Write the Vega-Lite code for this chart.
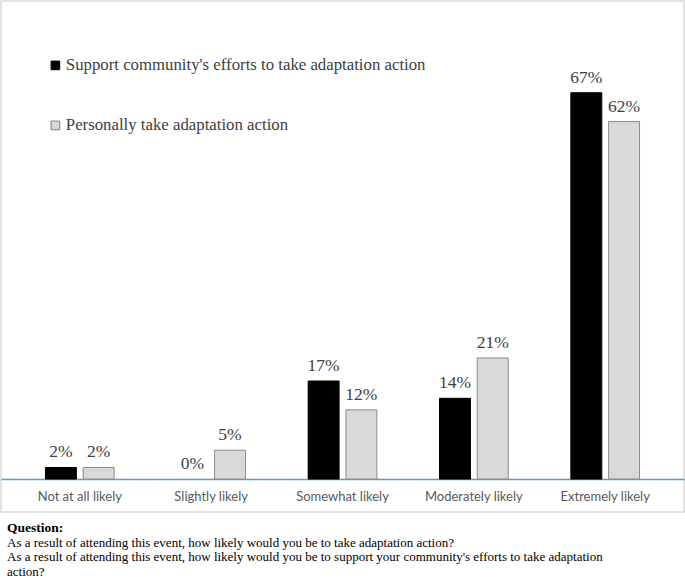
{
  "$schema": "https://vega.github.io/schema/vega-lite/v6.json",
  "autosize": {"type": "none"},
  "padding": {"left": 1, "top": 1, "right": 1, "bottom": 66},
  "width": 683,
  "height": 511,
  "background": "white",
  "config": {
    "view": {"stroke": "#d9d9d9", "strokeWidth": 1.5}
  },
  "title": {
    "text": "Question:",
    "subtitle": [
      "As a result of attending this event, how likely would you be to take adaptation action?",
      "As a result of attending this event, how likely would you be to support your community's efforts to take adaptation",
      "action?"
    ],
    "orient": "bottom",
    "anchor": "start",
    "frame": "group",
    "dx": 6,
    "offset": 9,
    "font": "Liberation Serif",
    "fontSize": 13.5,
    "fontWeight": "bold",
    "color": "#000000",
    "subtitleFont": "Liberation Serif",
    "subtitleFontSize": 13,
    "subtitleColor": "#000000",
    "subtitleLineHeight": 14.8,
    "subtitlePadding": 2
  },
  "data": {
    "values": [
      {"cat": "Not at all likely", "series": "Support community's efforts to take adaptation action", "value": 2, "label": "2%"},
      {"cat": "Not at all likely", "series": "Personally take adaptation action", "value": 2, "label": "2%"},
      {"cat": "Slightly likely", "series": "Support community's efforts to take adaptation action", "value": 0, "label": "0%"},
      {"cat": "Slightly likely", "series": "Personally take adaptation action", "value": 5, "label": "5%"},
      {"cat": "Somewhat likely", "series": "Support community's efforts to take adaptation action", "value": 17, "label": "17%"},
      {"cat": "Somewhat likely", "series": "Personally take adaptation action", "value": 12, "label": "12%"},
      {"cat": "Moderately likely", "series": "Support community's efforts to take adaptation action", "value": 14, "label": "14%"},
      {"cat": "Moderately likely", "series": "Personally take adaptation action", "value": 21, "label": "21%"},
      {"cat": "Extremely likely", "series": "Support community's efforts to take adaptation action", "value": 67, "label": "67%"},
      {"cat": "Extremely likely", "series": "Personally take adaptation action", "value": 62, "label": "62%"}
    ]
  },
  "encoding": {
    "x": {
      "field": "cat",
      "type": "nominal",
      "sort": ["Not at all likely", "Slightly likely", "Somewhat likely", "Moderately likely", "Extremely likely"],
      "scale": {"paddingInner": 0, "paddingOuter": 0.1},
      "axis": {
        "title": null,
        "orient": "bottom",
        "offset": -33,
        "domainColor": "#5b9bd5",
        "domainWidth": 1.5,
        "ticks": false,
        "labelAngle": 0,
        "labelPadding": 11,
        "labelFont": "Lato",
        "labelFontSize": 13,
        "labelColor": "#595959"
      }
    },
    "xOffset": {
      "field": "series",
      "type": "nominal",
      "sort": ["Support community's efforts to take adaptation action", "Personally take adaptation action"],
      "scale": {"paddingInner": 0.18, "paddingOuter": 0.83}
    },
    "y": {
      "field": "value",
      "type": "quantitative",
      "scale": {"domain": [-5.72, 82.91], "nice": false, "zero": false},
      "axis": null
    }
  },
  "layer": [
    {
      "mark": {"type": "bar", "strokeWidth": 1},
      "encoding": {
        "y2": {"datum": 0},
        "strokeOpacity": {"condition": {"test": "datum.value === 0", "value": 0}, "value": 1},
        "fill": {
          "field": "series",
          "type": "nominal",
          "sort": ["Support community's efforts to take adaptation action", "Personally take adaptation action"],
          "scale": {"range": ["#000000", "#d9d9d9"]},
          "legend": {
            "title": null,
            "orient": "none",
            "legendX": 46,
            "legendY": 56,
            "symbolType": "square",
            "symbolSize": 75,
            "symbolStrokeWidth": 1,
            "labelFont": "Liberation Serif",
            "labelFontSize": 16.8,
            "labelColor": "#404040",
            "labelOffset": 2,
            "rowPadding": 42,
            "labelLimit": 600,
            "encode": {
              "symbols": {
                "update": {
                  "stroke": {"signal": "datum.value === 'Personally take adaptation action' ? '#7f7f7f' : '#000000'"},
                  "strokeWidth": {"value": 1}
                }
              }
            }
          }
        },
        "stroke": {
          "field": "series",
          "type": "nominal",
          "sort": ["Support community's efforts to take adaptation action", "Personally take adaptation action"],
          "scale": {"range": ["#000000", "#8c8c8c"]},
          "legend": null
        }
      }
    },
    {
      "mark": {
        "type": "text",
        "baseline": "alphabetic",
        "dy": -10,
        "font": "Liberation Serif",
        "fontSize": 17.5,
        "color": "#404040"
      },
      "encoding": {
        "text": {"field": "label", "type": "nominal"}
      }
    }
  ]
}
